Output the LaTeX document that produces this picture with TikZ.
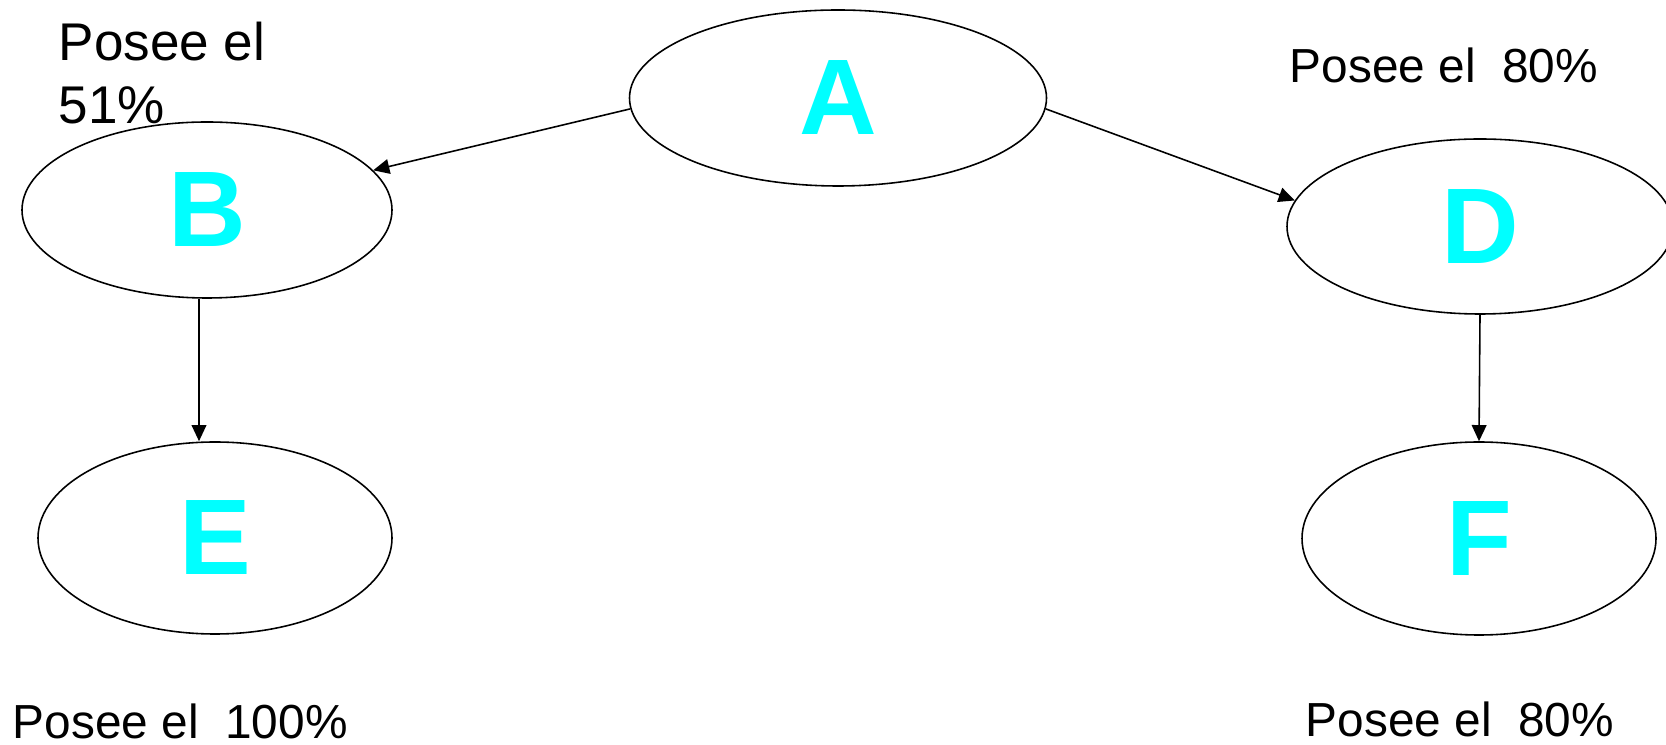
\documentclass[tikz,border=0pt]{standalone}
\usepackage{fontspec}
\setmainfont{Liberation Sans}
\usetikzlibrary{shapes,arrows.meta}
\definecolor{lettercyan}{RGB}{0,255,255}

\begin{document}
\begin{tikzpicture}[node distance = 3cm, auto, line width=0.45pt]
  \tikzstyle{company} = [ellipse, draw, inner sep=0pt,
    text=lettercyan, font=\fontsize{30.6}{36}\selectfont\bfseries]
  \tikzstyle{share} = [inner sep=0pt, font=\fontsize{13.6}{16}\selectfont]
  \tikzstyle{line} = [draw, -{Triangle[length=4.6pt, width=4.2pt]}]

  \useasboundingbox (0,0) rectangle (16.66,7.45);

  % Place nodes
  \node [company, minimum width=4.17cm, minimum height=1.76cm] (A) at (8.38,6.47) {A};
  \node [company, minimum width=3.70cm, minimum height=1.76cm] (B) at (2.07,5.35) {B};
  \node [company, minimum width=3.86cm, minimum height=1.75cm] (D) at (14.80,5.185) {D};
  \node [company, minimum width=3.54cm, minimum height=1.92cm,
    below of=B, node distance=3.28cm, xshift=0.08cm] (E) {E};
  \node [company, minimum width=3.54cm, minimum height=1.93cm,
    below of=D, node distance=3.12cm, xshift=-0.01cm] (F) {F};

  \node [share, font=\fontsize{15.1}{17.9}\selectfont, align=left,
    anchor=north west] (shareB) at (0.58,7.237) {Posee el\\51\%};
  \node [share, anchor=base west] (shareD) at (12.89,6.62) {Posee el\ \ 80\%};
  \node [share, anchor=base west] (shareE) at (0.12,0.07) {Posee el\ \ 100\%};
  \node [share, anchor=base west] (shareF) at (13.05,0.08) {Posee el\ \ 80\%};

  % Draw edges
  \path [line] (A.183) -- (B);
  \path [line] (A.357) -- (D.172);
  \path [line] ([xshift=-0.08cm]B.south) -- ([xshift=-0.08cm]B.south |- E.north);
  \path [line] (D.south) -- (F.north);

\end{tikzpicture}
\end{document}
